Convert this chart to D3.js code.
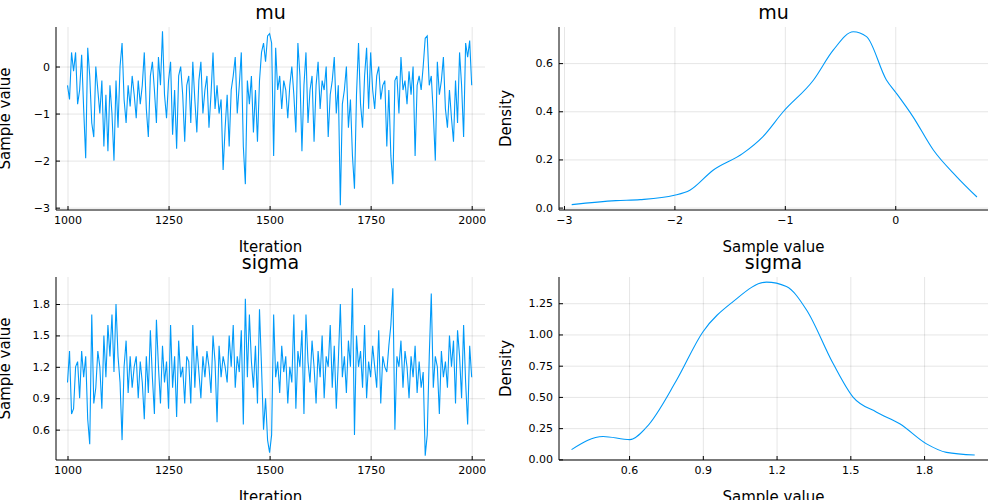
<!DOCTYPE html>
<html>
<head>
  <meta charset="utf-8">
  <title>Chain summary</title>
  <script src="https://d3js.org/d3.v7.min.js"></script>
  <style>
    body { margin: 0; background: white; }
    text { font-family: "DejaVu Sans", sans-serif; fill: #000; }
    .tick text { font-size: 11px; }
    .tick line { stroke: #000; }
    .domain { stroke: #000; }
    .grid line { stroke: #000; stroke-opacity: 0.1; }
    .grid .domain { display: none; }
  </style>
</head>
<body>
  <script>
    // Trace values, one every 5 iterations from 1000 to 2000
    var muTrace = [
      -0.4,-0.7,0.3,-0.1,0.3,-0.8,-0.5,0.25,-0.9,-1.95,0.4,-0.2,-1.2,-1.5,0.0,-0.5,-1.0,-0.3,-1.7,-0.6,
      -1.8,-0.4,-1.0,-2.0,-0.3,-1.3,0.0,0.5,-0.7,-1.2,-0.4,-0.85,-0.2,-0.6,-1.1,-0.3,-0.8,-0.4,0.3,-0.9,
      -1.5,-0.2,0.1,-0.5,-1.2,0.2,-0.4,0.75,-0.6,-1.1,-0.3,0.1,-1.45,-0.5,-1.75,-0.2,0.0,-0.6,-1.6,-0.4,
      -0.2,-1.2,0.1,-0.7,-1.4,-0.3,0.1,-1.0,-0.5,-0.2,-1.3,-0.6,0.3,-0.9,-0.4,-1.0,-0.7,-2.2,-1.3,-0.6,
      -1.7,-0.5,-0.2,0.2,-1.0,-0.4,0.3,-1.7,-2.5,-0.3,-0.8,-0.2,-1.4,-0.5,-1.6,-0.3,0.3,0.5,0.1,0.65,
      0.7,0.5,-1.9,0.4,-0.5,-0.2,-0.9,-0.3,-0.5,-1.1,-0.4,0.0,-0.6,-1.4,0.5,-0.2,-1.8,-0.4,0.3,-1.2,
      -0.5,-0.2,-1.6,-0.4,0.1,-0.9,-0.3,-0.5,0.0,-1.5,-0.6,-0.3,0.2,-1.0,-0.4,-2.95,-0.8,-0.5,0.0,-1.3,
      -0.7,-1.9,-2.6,-0.6,0.5,-0.8,-1.3,-0.2,0.4,-0.9,0.3,-0.5,-0.9,-0.2,0.0,-0.7,-0.4,-0.3,-1.7,-0.5,
      -1.9,-2.5,-0.3,-0.2,-1.0,0.2,-0.5,-0.3,-0.8,-0.1,-0.6,0.0,-1.9,-0.4,-0.2,-0.5,0.0,0.6,0.65,-0.4,
      -0.2,-1.0,-2.0,0.1,-0.6,-0.3,0.2,-0.9,-1.3,-0.5,-1.1,-1.6,-0.3,-1.2,0.3,-0.4,-1.5,0.5,0.2,0.55,
      -0.4
    ];
    var sigmaTrace = [
      1.05,1.35,0.75,0.8,1.2,1.25,0.9,1.35,1.1,1.3,0.7,0.46,1.7,0.85,1.0,1.35,1.2,0.8,1.5,1.1,
      1.6,1.3,1.7,1.15,1.8,1.3,1.05,0.5,1.2,1.45,0.95,1.3,1.0,1.2,1.3,0.9,1.25,1.05,0.7,1.3,
      0.95,1.55,1.1,0.75,1.65,1.2,0.85,1.4,1.05,1.25,0.8,1.6,1.0,1.3,0.72,1.45,1.1,1.2,0.85,1.3,
      1.25,0.85,1.6,1.0,1.4,1.15,0.9,1.3,1.1,1.35,1.2,0.95,1.5,1.25,0.67,1.4,1.1,1.3,1.2,1.05,
      1.5,1.2,1.6,1.0,1.3,1.15,1.55,0.65,1.85,1.1,1.7,1.25,1.0,1.4,0.85,1.75,1.2,0.6,0.9,0.5,
      0.38,0.55,1.7,1.1,1.25,0.95,1.4,1.15,1.3,0.85,1.2,1.05,1.7,0.8,1.35,1.2,1.55,0.75,1.7,1.25,
      1.05,1.45,1.2,0.85,1.35,1.1,1.5,0.9,1.3,1.2,1.6,1.0,1.4,0.8,1.25,1.8,1.1,1.3,0.95,1.45,
      1.2,1.95,0.55,1.5,1.2,1.35,1.0,1.6,0.9,1.25,1.1,1.4,1.2,1.0,1.55,0.85,1.3,1.2,1.15,1.4,
      1.6,1.95,0.6,1.3,1.2,1.45,1.0,1.35,1.2,0.9,1.3,1.1,1.4,0.95,1.25,1.0,1.15,0.35,0.55,1.3,
      1.9,1.0,1.3,1.2,0.75,1.35,1.1,1.25,1.0,1.5,1.2,1.45,0.85,1.55,1.3,0.9,1.6,1.05,0.65,1.4,
      1.1
    ];

    // Kernel density curves: [value, density]
    var muDensity = [
      [-2.93,0.0125],[-2.53,0.029],[-2.31,0.033],[-2.0,0.051],[-1.86,0.072],[-1.65,0.155],
      [-1.38,0.225],[-1.2,0.294],[-1.015,0.398],[-0.74,0.53],[-0.56,0.655],[-0.38,0.73],
      [-0.26,0.71],[-0.08,0.53],[0.01,0.475],[0.16,0.378],[0.345,0.239],[0.557,0.128],[0.74,0.044]
    ];
    var sigmaDensity = [
      [0.366,0.078],[0.494,0.183],[0.603,0.158],[0.671,0.258],[0.793,0.633],[0.9,1.02],
      [1.023,1.263],[1.159,1.419],[1.24,1.384],[1.322,1.196],[1.43,0.767],[1.511,0.499],
      [1.607,0.378],[1.701,0.285],[1.81,0.124],[1.891,0.056],[2.006,0.035]
    ];

    function traceData(vals) {
      return vals.map(function(v, i) { return [1000 + i * 5, v]; });
    }

    var minus = function(s) { return s.replace("-", "\u2212"); };

    var panels = [
      {title: "mu", data: traceData(muTrace), left: 56, top: 27, right: 485, bottom: 210,
       xd: [1000 - 11.5 / 0.404, 1000 + (485 - 67.7) / 0.404], yd: [-3.05, 0.84],
       xt: [1000, 1250, 1500, 1750, 2000], yt: [-3, -2, -1, 0], yf: d3.format("d"),
       xl: "Iteration", yl: "Sample value", curve: d3.curveLinear},
      {title: "mu", data: muDensity, left: 559, top: 27, right: 988, bottom: 210,
       xd: [-3.045, 0.84], yd: [-0.01, 0.75],
       xt: [-3, -2, -1, 0], yt: [0, 0.2, 0.4, 0.6], yf: d3.format(".1f"),
       xl: "Sample value", yl: "Density", curve: d3.curveMonotoneX},
      {title: "sigma", data: traceData(sigmaTrace), left: 56, top: 277, right: 485, bottom: 460,
       xd: [1000 - 11.5 / 0.404, 1000 + (485 - 67.7) / 0.404], yd: [0.31, 2.058],
       xt: [1000, 1250, 1500, 1750, 2000], yt: [0.6, 0.9, 1.2, 1.5, 1.8], yf: d3.format(".1f"),
       xl: "Iteration", yl: "Sample value", curve: d3.curveLinear},
      {title: "sigma", data: sigmaDensity, left: 559, top: 277, right: 988, bottom: 460,
       xd: [0.315, 2.06], yd: [-0.005, 1.46],
       xt: [0.6, 0.9, 1.2, 1.5, 1.8], yt: [0, 0.25, 0.5, 0.75, 1.0, 1.25], yf: d3.format(".2f"),
       xl: "Sample value", yl: "Density", curve: d3.curveMonotoneX}
    ];

    var svg = d3.select("body").append("svg")
      .attr("width", 1000)
      .attr("height", 500);

    panels.forEach(function(p) {
      var w = p.right - p.left, h = p.bottom - p.top;
      var g = svg.append("g").attr("transform", "translate(" + p.left + "," + p.top + ")");

      var x = d3.scaleLinear().domain(p.xd).range([0, w]);
      var y = d3.scaleLinear().domain(p.yd).range([h, 0]);

      // Grid
      g.append("g").attr("class", "grid")
        .attr("transform", "translate(0," + h + ")")
        .call(d3.axisBottom(x).tickValues(p.xt).tickSize(-h).tickFormat(""));
      g.append("g").attr("class", "grid")
        .call(d3.axisLeft(y).tickValues(p.yt).tickSize(-w).tickFormat(""));

      // Axes
      g.append("g")
        .attr("transform", "translate(0," + h + ")")
        .call(d3.axisBottom(x).tickValues(p.xt).tickSize(-4).tickPadding(6)
          .tickFormat(function(d) { return minus(String(d)); }))
        .call(function(a) { a.select(".domain").attr("d", "M0,0H" + w); });
      g.append("g")
        .call(d3.axisLeft(y).tickValues(p.yt).tickSize(-4).tickPadding(6)
          .tickFormat(function(d) { return minus(p.yf(d)); }))
        .call(function(a) { a.select(".domain").attr("d", "M0,0V" + h); });

      // Series
      g.append("path")
        .datum(p.data)
        .attr("fill", "none")
        .attr("stroke", "#009af9")
        .attr("stroke-width", 1.1)
        .attr("d", d3.line()
          .x(function(d) { return x(d[0]); })
          .y(function(d) { return y(d[1]); })
          .curve(p.curve));

      // Titles and labels
      g.append("text")
        .attr("x", w / 2).attr("y", -8)
        .attr("text-anchor", "middle")
        .style("font-size", "19px")
        .text(p.title);
      g.append("text")
        .attr("x", w / 2).attr("y", h + 42)
        .attr("text-anchor", "middle")
        .style("font-size", "15px")
        .text(p.xl);
      g.append("text")
        .attr("transform", "translate(" + (p.left < 100 ? -46 : -48) + "," + (h / 2) + ") rotate(-90)")
        .attr("text-anchor", "middle")
        .style("font-size", "15px")
        .text(p.yl);
    });
  </script>
</body>
</html>
